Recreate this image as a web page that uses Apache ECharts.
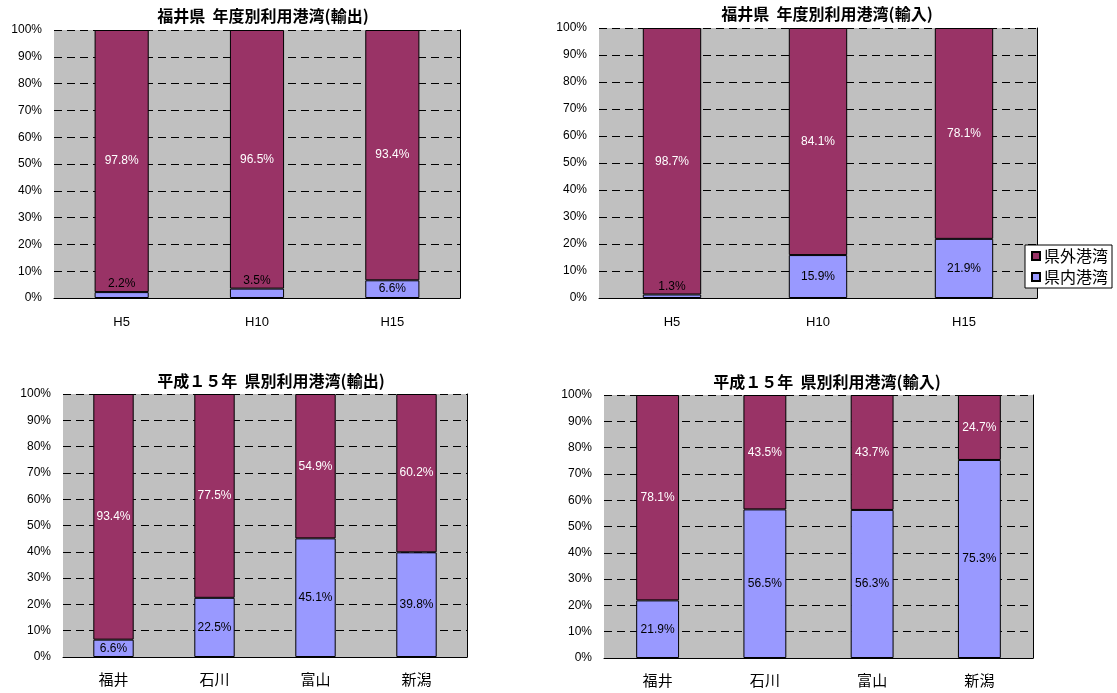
<!DOCTYPE html>
<html>
<head>
<meta charset="utf-8">
<script src="https://cdn.jsdelivr.net/npm/echarts@6/dist/echarts.min.js"></script>
<style>
  html, body { margin: 0; padding: 0; background: #fff; }
  #chart { width: 1117px; height: 693px; }
</style>
</head>
<body>
<div id="chart"></div>
<script>
// Share of cargo handled via ports inside / outside the prefecture (%)
const yearCategories = ['H5', 'H10', 'H15'];
const prefCategories = ['福井', '石川', '富山', '新潟'];

const exportByYearInside  = [2.2, 3.5, 6.6];
const exportByYearOutside = [97.8, 96.5, 93.4];

const importByYearInside  = [1.3, 15.9, 21.9];
const importByYearOutside = [98.7, 84.1, 78.1];

const exportByPrefInside  = [6.6, 22.5, 45.1, 39.8];
const exportByPrefOutside = [93.4, 77.5, 54.9, 60.2];

const importByPrefInside  = [21.9, 56.5, 56.3, 75.3];
const importByPrefOutside = [78.1, 43.5, 43.7, 24.7];

const yTickLabels = ['0%', '10%', '20%', '30%', '40%', '50%', '60%', '70%', '80%', '90%', '100%'];

const INSIDE = '県内港湾';
const OUTSIDE = '県外港湾';
const COLOR_INSIDE = '#9999ff';
const COLOR_OUTSIDE = '#993366';
const LATIN = "'Liberation Sans', Arial, 'Noto Sans CJK JP', sans-serif";
const CJK = "'Noto Sans CJK JP', sans-serif";

const panels = [
  { title: '福井県  年度別利用港湾(輸出)', cats: yearCategories, inside: exportByYearInside, outside: exportByYearOutside,
    grid: { left: 54, top: 30, width: 406, height: 268 }, titleX: 263, titleY: 8, catFont: 13, catFamily: LATIN, catMargin: 18 },
  { title: '福井県  年度別利用港湾(輸入)', cats: yearCategories, inside: importByYearInside, outside: importByYearOutside,
    grid: { left: 599, top: 28, width: 438, height: 270 }, titleX: 827, titleY: 6, catFont: 13, catFamily: LATIN, catMargin: 18 },
  { title: '平成１５年  県別利用港湾(輸出)', cats: prefCategories, inside: exportByPrefInside, outside: exportByPrefOutside,
    grid: { left: 63, top: 394, width: 404, height: 263 }, titleX: 271, titleY: 373, catFont: 15, catFamily: CJK, catMargin: 15 },
  { title: '平成１５年  県別利用港湾(輸入)', cats: prefCategories, inside: importByPrefInside, outside: importByPrefOutside,
    grid: { left: 604, top: 395, width: 429, height: 263 }, titleX: 827, titleY: 374, catFont: 15, catFamily: CJK, catMargin: 15 }
];

const fmt = p => p.value.toFixed(1) + '%';

const option = {
  animation: false,
  backgroundColor: '#fff',
  title: [],
  grid: [],
  xAxis: [],
  yAxis: [],
  series: [],
  legend: {
    data: [OUTSIDE, INSIDE],
    icon: 'rect',
    orient: 'vertical',
    left: 1025, top: 245,
    itemWidth: 8, itemHeight: 8, itemGap: 5,
    padding: [3, 4, 3, 6],
    backgroundColor: '#fff',
    borderColor: '#000', borderWidth: 1,
    textStyle: { fontFamily: CJK, fontSize: 16, color: '#000', padding: [0, 0, 0, -1] }
  }
};

panels.forEach((pn, i) => {
  option.title.push({
    text: pn.title, left: pn.titleX, top: pn.titleY, textAlign: 'center', padding: 0,
    textStyle: { fontFamily: CJK, fontWeight: 'bold', fontSize: 16, color: '#000' }
  });
  option.grid.push(Object.assign({ show: true, backgroundColor: '#c0c0c0', borderWidth: 0 }, pn.grid));
  option.xAxis.push({
    type: 'category', gridIndex: i, data: pn.cats,
    axisLine: { lineStyle: { color: '#000', width: 1 } },
    axisTick: { inside: true, length: 5, lineStyle: { color: '#000' } },
    axisLabel: { color: '#000', fontSize: pn.catFont, fontFamily: pn.catFamily, margin: pn.catMargin }
  });
  option.yAxis.push({
    type: 'value', gridIndex: i, min: 0, max: 100, interval: 10,
    axisLine: { show: false }, axisTick: { show: false },
    axisLabel: { color: '#000', fontSize: 12, fontFamily: LATIN, margin: 12,
      formatter: v => yTickLabels[Math.round(v / 10)] },
    splitLine: { lineStyle: { color: '#000', type: [8, 5], width: 1 } }
  });
  // right-hand frame of the plot area
  option.yAxis.push({
    type: 'value', gridIndex: i, min: 0, max: 100, position: 'right',
    axisLine: { show: true, lineStyle: { color: '#000', width: 1 } },
    axisTick: { show: false }, axisLabel: { show: false }, splitLine: { show: false }
  });
  const yIdx = i * 2;
  option.series.push({
    name: INSIDE, type: 'bar', stack: 's' + i, xAxisIndex: i, yAxisIndex: yIdx,
    barWidth: '40%',
    itemStyle: { color: COLOR_INSIDE, borderColor: '#000', borderWidth: 1 },
    data: pn.inside.map(v => ({
      value: v,
      label: v < 5 ? { position: 'top', distance: 2 } : { position: 'inside' }
    })),
    label: { show: true, formatter: fmt, color: '#000', fontSize: 12, fontFamily: LATIN },
    z: 3
  });
  option.series.push({
    name: OUTSIDE, type: 'bar', stack: 's' + i, xAxisIndex: i, yAxisIndex: yIdx,
    barWidth: '40%',
    itemStyle: { color: COLOR_OUTSIDE, borderColor: '#000', borderWidth: 1 },
    data: pn.outside,
    label: { show: true, position: 'inside', formatter: fmt, color: '#fff', fontSize: 12, fontFamily: LATIN },
    z: 2
  });
});

const chart = echarts.init(document.getElementById('chart'), null, { renderer: 'canvas' });
chart.setOption(option);
</script>
</body>
</html>
